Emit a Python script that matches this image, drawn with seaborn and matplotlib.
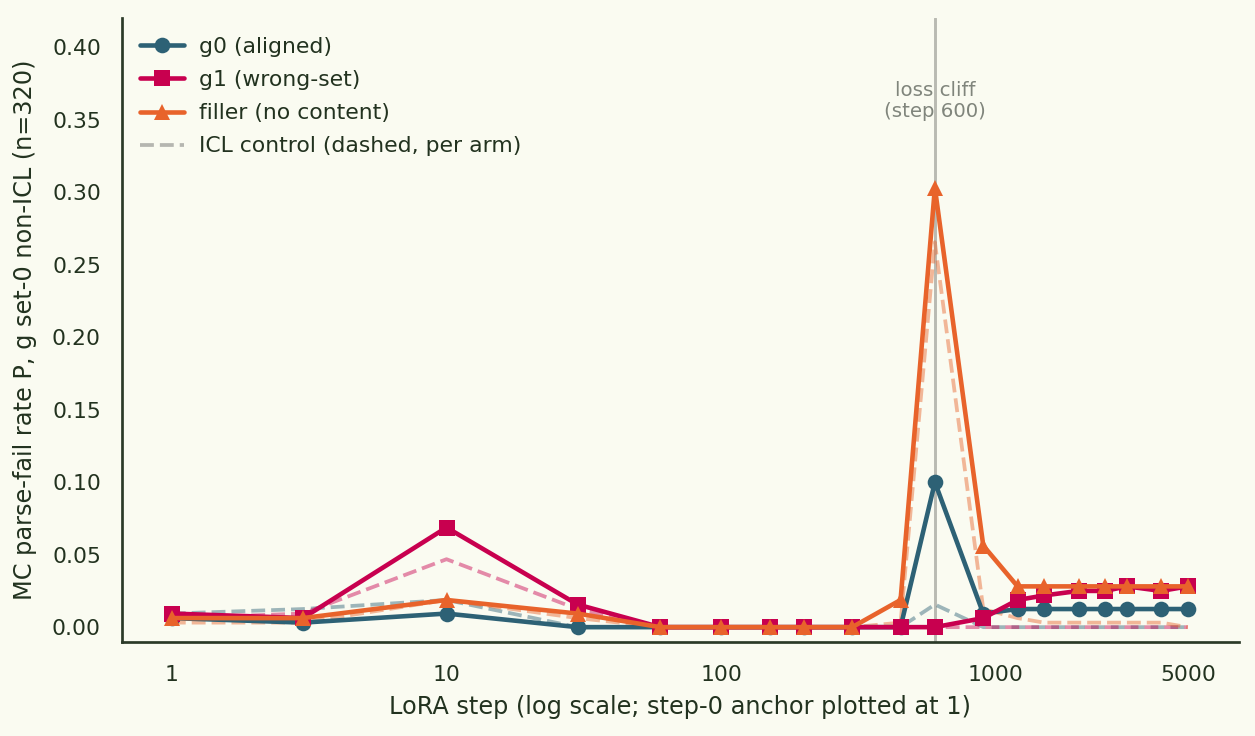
import numpy as np
import pandas as pd
import seaborn as sns
import matplotlib.pyplot as plt

# LoRA steps (step 0 anchor drawn at 1)
steps = [1, 3, 10, 30, 60, 100, 150, 200, 300, 450, 600, 900, 1200, 1500, 2000, 2500, 3000, 4000, 5000]

# MC parse-fail rates, fine-tuned arms (n=320)
g0_rate = [0.00625, 0.003125, 0.009375, 0, 0, 0, 0, 0, 0, 0, 0.1, 0.009375,
           0.0125, 0.0125, 0.0125, 0.0125, 0.0125, 0.0125, 0.0125]
g1_rate = [0.009375, 0.00625, 0.06875, 0.015625, 0, 0, 0, 0, 0, 0, 0, 0.00625,
           0.01875, 0.021875, 0.025, 0.025, 0.028125, 0.025, 0.028125]
filler_rate = [0.00625, 0.00625, 0.01875, 0.009375, 0, 0, 0, 0, 0, 0.01875, 0.303125, 0.05625,
               0.028125, 0.028125, 0.028125, 0.028125, 0.028125, 0.028125, 0.028125]

# ICL controls (dashed)
g0_icl = [0.009375, 0.0125, 0.01875, 0, 0, 0, 0, 0, 0, 0, 0.015625, 0,
          0, 0, 0, 0, 0, 0, 0]
g1_icl = [0.00625, 0.009375, 0.046875, 0.0125, 0, 0, 0, 0, 0, 0, 0, 0,
          0, 0, 0, 0, 0, 0, 0]
filler_icl = [0.003125, 0.003125, 0.01875, 0.00625, 0, 0, 0, 0, 0, 0.003125, 0.265625, 0.0125,
              0.00625, 0.003125, 0.003125, 0.003125, 0.003125, 0.003125, 0]

arm_names = ["g0 (aligned)", "g1 (wrong-set)", "filler (no content)"]
arm_colors = ["#2d6175", "#c8004f", "#e8632b"]
arm_markers = ["o", "s", "^"]

bg = "#fafbf1"
ink = "#22321f"

sns.set_theme(style="white")
plt.rcParams.update({
    "figure.facecolor": bg, "axes.facecolor": bg, "savefig.facecolor": bg,
    "text.color": ink, "axes.labelcolor": ink, "xtick.color": ink, "ytick.color": ink,
    "axes.edgecolor": "#2b3a28", "font.size": 10.5,
})
plt.rcParams["font.family"] = ["DejaVu Sans"]

fig, ax = plt.subplots(figsize=(1255 / 150, 736 / 150), dpi=150)
fig.subplots_adjust(left=0.097, right=0.987, top=0.975, bottom=0.128)

ax.axvline(600, color="#b9bab2", lw=1.4, zorder=1)
ax.text(600, 0.363, "loss cliff\n(step 600)", ha="center", va="center",
        fontsize=9.5, color="#80857c", linespacing=1.15)

for icl, col in zip([g0_icl, g1_icl, filler_icl], arm_colors):
    sns.lineplot(x=steps, y=icl, color=col, ax=ax, lw=1.8, alpha=0.45,
                 linestyle="--", zorder=2)

for rate, name, col, mk in zip([g0_rate, g1_rate, filler_rate], arm_names, arm_colors, arm_markers):
    sns.lineplot(x=steps, y=rate, color=col, ax=ax, lw=2.2, marker=mk,
                 markersize=7.5, markeredgewidth=0, label=name, zorder=3)

ax.plot([], [], color="#b5b6b0", lw=1.8, linestyle="--", label="ICL control (dashed, per arm)")

ax.set_xscale("log")
ax.set_xlim(0.657, 7660)
ax.set_ylim(-0.0101, 0.42)
ax.set_xticks([1, 10, 100, 1000, 5000])
ax.set_xticklabels(["1", "10", "100", "1000", "5000"])
ax.minorticks_off()
ax.set_yticks(np.arange(0, 0.41, 0.05))
ax.set_yticklabels([f"{v:.2f}" for v in np.arange(0, 0.41, 0.05)])
ax.tick_params(axis="both", length=0, labelsize=10.5)
ax.tick_params(axis="x", pad=11)
ax.tick_params(axis="y", pad=10)

ax.set_xlabel("LoRA step (log scale; step-0 anchor plotted at 1)", fontsize=11.5, labelpad=5)
ax.set_ylabel("MC parse-fail rate P, g set-0 non-ICL (n=320)", fontsize=11.5, labelpad=7)

sns.despine(ax=ax)
for s in ["left", "bottom"]:
    ax.spines[s].set_linewidth(1.3)

ax.legend(loc="upper left", frameon=False, fontsize=10.5, handlelength=2.0,
          handletextpad=0.7, borderaxespad=0.45, labelspacing=0.6)

fig.savefig("out.png", dpi=150)
